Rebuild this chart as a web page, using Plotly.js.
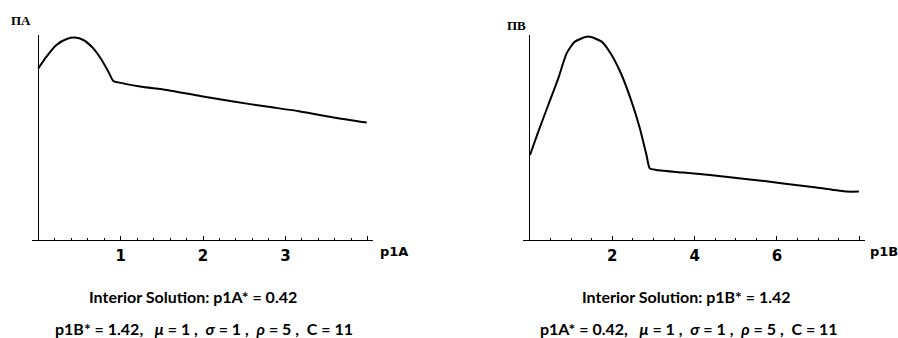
<!DOCTYPE html>
<html>
<head>
<meta charset="utf-8">
<script src="https://cdn.plot.ly/plotly-3.0.1.min.js"></script>
<style>html,body{margin:0;padding:0;background:#fff;}#chart{width:898px;height:338px;}</style>
</head>
<body>
<div id="chart"></div>
<script>
// Left panel: profit of A vs p1A
const p1A = [0, 0.10, 0.22, 0.345, 0.446, 0.547, 0.668, 0.77, 0.85, 0.911, 0.972, 1.235, 1.559, 1.964, 2.368, 2.773, 3.178, 3.583, 3.988];
const profitA = [8.58, 9.17, 9.75, 10.05, 10.12, 10.0, 9.58, 9.0, 8.42, 7.95, 7.88, 7.67, 7.5, 7.2, 6.92, 6.67, 6.43, 6.13, 5.87];
// Right panel: profit of B vs p1B
const p1B = [0, 0.202, 0.444, 0.687, 0.89, 1.092, 1.415, 1.74, 1.983, 2.226, 2.468, 2.67, 2.83, 2.91, 3.075, 3.72, 4.37, 5.34, 6.15, 6.96, 7.69, 7.99];
const profitB = [4.25, 5.42, 6.75, 8.08, 9.33, 9.92, 10.17, 9.92, 9.25, 8.25, 6.92, 5.58, 4.25, 3.58, 3.5, 3.37, 3.25, 3.03, 2.83, 2.62, 2.42, 2.42];

const ticksA = [1, 2, 3, 4];
const tickTextA = ['1', '2', '3', ''];
const ticksB = [2, 4, 6, 8];
const tickTextB = ['2', '4', '6', ''];

const labelA = 'ΠA', labelB = 'ΠB';
const xTitleA = 'p1A', xTitleB = 'p1B';
const captionA1 = 'Interior Solution: p1A* = 0.42';
const captionA2 = 'p1B* = 1.42,&nbsp;&nbsp; <i>μ</i> = 1 ,&nbsp; <i>σ</i> = 1 ,&nbsp; <i>ρ</i> = 5 ,&nbsp; C = 11';
const captionB1 = 'Interior Solution: p1B* = 1.42';
const captionB2 = 'p1A* = 0.42,&nbsp;&nbsp; <i>μ</i> = 1 ,&nbsp; <i>σ</i> = 1 ,&nbsp; <i>ρ</i> = 5 ,&nbsp; C = 11';

const W = 898, H = 338;
const px = v => v / W;
const py = v => (H - v) / H;

const lineStyle = {color: '#000', width: 2, shape: 'spline', smoothing: 0.6};
const data = [
  {x: p1A, y: profitA, type: 'scatter', mode: 'lines', line: lineStyle, xaxis: 'x', yaxis: 'y', hoverinfo: 'skip'},
  {x: p1B, y: profitB, type: 'scatter', mode: 'lines', line: lineStyle, xaxis: 'x2', yaxis: 'y2', hoverinfo: 'skip'}
];

const tickFont = {family: 'DejaVu Sans', size: 15, color: '#000', weight: 'bold'};
function xax(domain, range, tv, tt, minorD, anchor) {
  return {
    domain: domain, range: range, anchor: anchor,
    showline: true, linecolor: '#000', linewidth: 1,
    zeroline: true, zerolinecolor: '#000', zerolinewidth: 1,
    showgrid: false,
    tickmode: 'array', tickvals: tv, ticktext: tt,
    ticks: 'inside', ticklen: 4, tickcolor: '#000', tickwidth: 1,
    tickfont: tickFont, ticklabelstandoff: 2,
    minor: {dtick: minorD, tick0: 0, ticks: 'inside', ticklen: 2, tickcolor: '#000', tickwidth: 1, showgrid: false},
    fixedrange: true
  };
}
function yax(anchor) {
  return {
    domain: [py(240), py(35)], range: [0, 10.25], anchor: anchor,
    showline: false, zeroline: false, showgrid: false, showticklabels: false, ticks: '', fixedrange: true
  };
}

const capFont = {family: 'Lato', size: 16, color: '#000', weight: 'bold'};
const ann = (x, y, text, font) => ({xref: 'paper', yref: 'paper', x: px(x), y: py(y), text: text, showarrow: false, xanchor: 'center', yanchor: 'middle', font: font});
const serifFont = {family: 'Liberation Serif', size: 13, color: '#000', weight: 'bold'};
const axFont = {family: 'DejaVu Sans', size: 13, color: '#000', weight: 'bold'};

const layout = {
  width: W, height: H,
  margin: {l: 0, r: 0, t: 0, b: 0},
  paper_bgcolor: '#fff', plot_bgcolor: 'rgba(0,0,0,0)',
  showlegend: false,
  xaxis: xax([px(31.7), px(373)], [-0.08, 4.064], ticksA, tickTextA, 0.2, 'y'),
  yaxis: yax('x'),
  xaxis2: xax([px(522.7), px(865)], [-0.177, 8.138], ticksB, tickTextB, 0.5, 'y2'),
  yaxis2: yax('x2'),
  annotations: [
    ann(21, 21, labelA, serifFont),
    ann(516, 26, labelB, serifFont),
    ann(393.5, 251, xTitleA, axFont),
    ann(883.5, 251, xTitleB, axFont),
    ann(193, 296, captionA1, capFont),
    ann(204, 328, captionA2, capFont),
    ann(686.7, 296, captionB1, capFont),
    ann(689, 328, captionB2, capFont)
  ]
};

Plotly.newPlot('chart', data, layout, {staticPlot: true, displayModeBar: false});
</script>
</body>
</html>
